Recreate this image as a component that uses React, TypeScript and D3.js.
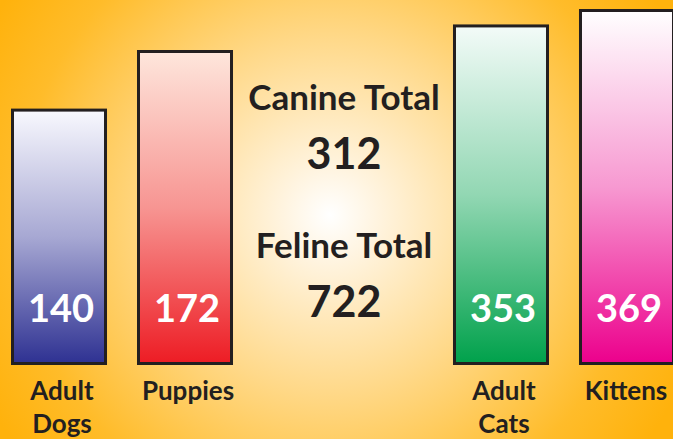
import React, { useEffect, useRef } from 'react';
import * as d3 from 'd3';

const categories = ['Adult Dogs', 'Puppies', 'Adult Cats', 'Kittens'];
const groups = ['Canine', 'Canine', 'Feline', 'Feline'];
const values = [140, 172, 353, 369];
const groupOrder = ['Canine', 'Feline'];
const totalLabels = ['Canine Total', 'Feline Total'];
const totals = [312, 722];
const colors = ['#2e3192', '#ed1c24', '#00a14b', '#ec008c'];
const topColors = ['#f8f8fe', '#fee6dc', '#f3fbf8', '#ffffff'];

const FONT = 'Lato, "Noto Sans", sans-serif';

export default function PetChart() {
  const svgRef = useRef<SVGSVGElement>(null);

  useEffect(() => {
    if (!svgRef.current) return;
    const W = 673;
    const H = 439;
    const base = 365;

    const svg = d3.select(svgRef.current);
    svg.selectAll('*').remove();
    svg.attr('width', W).attr('height', H);

    const defs = svg.append('defs');

    // background glow
    const bg = defs
      .append('radialGradient')
      .attr('id', 'bg')
      .attr('gradientUnits', 'userSpaceOnUse')
      .attr('cx', 330)
      .attr('cy', 215)
      .attr('r', 390);
    [
      ['0', '#ffffff'],
      ['0.12', '#fff4e0'],
      ['0.45', '#ffd98a'],
      ['0.8', '#ffbc2a'],
      ['1', '#ffb20c'],
    ].forEach(([o, c]) => bg.append('stop').attr('offset', o).attr('stop-color', c));

    svg.append('rect').attr('width', W).attr('height', H).attr('fill', 'url(#bg)');

    // group band, then bar band inside each group
    const xGroup = d3
      .scaleBand()
      .domain(groupOrder)
      .range([11, 675])
      .paddingInner(0.4977);

    const xInner = d3
      .scaleBand()
      .domain(['0', '1'])
      .range([0, xGroup.bandwidth()])
      .paddingInner(0.238)
      .paddingOuter(0);

    const yCanine = d3.scaleLinear().domain([0, 172]).range([base, 50]);
    const yFeline = d3.scaleLinear().domain([0, 369]).range([base, 9]);

    const bars = categories.map((c, i) => {
      const g = groups[i];
      const idx = groups.slice(0, i).filter((x) => x === g).length;
      const x0 = (xGroup(g) || 0) + (xInner(String(idx)) || 0);
      const y = g === 'Canine' ? yCanine : yFeline;
      return { c, i, x0, w: xInner.bandwidth(), top: y(values[i]) };
    });

    bars.forEach((b) => {
      const gr = defs
        .append('linearGradient')
        .attr('id', `bar${b.i}`)
        .attr('x1', 0)
        .attr('y1', 0)
        .attr('x2', 0)
        .attr('y2', 1);
      const mix = d3.interpolateRgb(topColors[b.i], colors[b.i]);
      gr.append('stop').attr('offset', '0').attr('stop-color', topColors[b.i]);
      gr.append('stop').attr('offset', '0.5').attr('stop-color', mix(0.4));
      gr.append('stop').attr('offset', '1').attr('stop-color', colors[b.i]);
    });

    const sw = 3;
    svg
      .selectAll('rect.bar')
      .data(bars)
      .enter()
      .append('rect')
      .attr('class', 'bar')
      .attr('x', (d) => d.x0 + sw / 2)
      .attr('y', (d) => d.top + sw / 2)
      .attr('width', (d) => d.w - sw)
      .attr('height', (d) => base - d.top - sw)
      .attr('fill', (d) => `url(#bar${d.i})`)
      .attr('stroke', '#231f20')
      .attr('stroke-width', sw);

    // values inside bars
    svg
      .selectAll('text.val')
      .data(bars)
      .enter()
      .append('text')
      .attr('class', 'val')
      .attr('x', (d) => d.x0 + d.w / 2 + 2)
      .attr('y', 322)
      .attr('text-anchor', 'middle')
      .attr('fill', '#ffffff')
      .style('font-family', FONT)
      .style('font-weight', 700)
      .style('font-size', '38px')
      .text((d) => values[d.i]);

    // category labels
    bars.forEach((b) => {
      const words = b.c === 'Puppies' || b.c === 'Kittens' ? [b.c] : b.c.split(' ');
      const t = svg
        .append('text')
        .attr('text-anchor', 'middle')
        .attr('fill', '#231f20')
        .style('font-family', FONT)
        .style('font-weight', 700)
        .style('font-size', '26px');
      words.forEach((w, k) => {
        t.append('tspan')
          .attr('x', b.x0 + b.w / 2 + (b.c === 'Kittens' ? -1 : 3))
          .attr('y', 400 + k * 33)
          .text(w);
      });
    });

    // totals in the middle
    const cx = 344;
    totalLabels.forEach((lab, k) => {
      const y0 = 110 + k * 148;
      svg
        .append('text')
        .attr('x', cx)
        .attr('y', y0)
        .attr('text-anchor', 'middle')
        .attr('fill', '#231f20')
        .style('font-family', FONT)
        .style('font-weight', 700)
        .style('font-size', '35px')
        .text(lab);
      svg
        .append('text')
        .attr('x', cx)
        .attr('y', y0 + 59)
        .attr('text-anchor', 'middle')
        .attr('fill', '#231f20')
        .style('font-family', FONT)
        .style('font-weight', 700)
        .style('font-size', '43px')
        .text(totals[k]);
    });
  }, []);

  return (
    <svg
      ref={svgRef}
      style={{ position: 'absolute', top: 0, left: 0, display: 'block' }}
    />
  );
}
